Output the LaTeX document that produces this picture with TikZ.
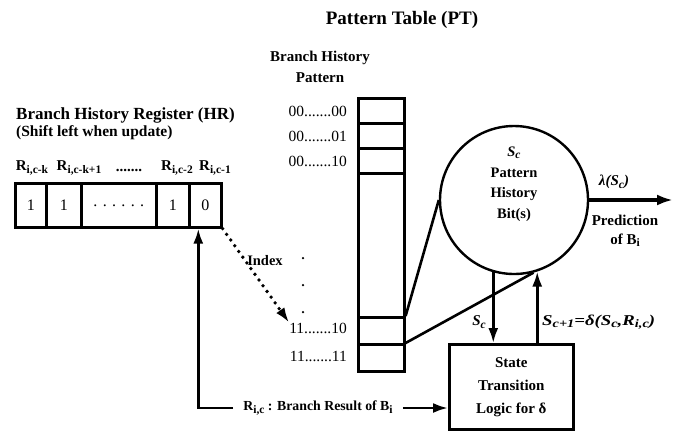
\documentclass[tikz,border=0pt]{standalone}
\usepackage{fontspec}
\usepackage{graphicx}
\setmainfont{Liberation Serif}
\usetikzlibrary{arrows.meta,calc}
\newcommand{\mysub}[1]{\raisebox{-0.35ex}{\fontsize{11.5}{11.5}\selectfont #1}}
\begin{document}
\begin{tikzpicture}[x=1pt,y=-1pt,
  txt/.style={font=\bfseries\fontsize{15}{17}\selectfont, inner sep=0pt},
  itxt/.style={font=\bfseries\itshape\fontsize{15}{17}\selectfont, inner sep=0pt},
  rowlbl/.style={font=\fontsize{15.5}{17}\selectfont, inner sep=0pt, anchor=east},
  cellbox/.style={draw, line width=2.6pt, minimum height=44pt, inner sep=0pt, anchor=north west, font=\fontsize{16}{18}\selectfont},
  ptrow/.style={draw, line width=2.6pt, minimum width=46pt, inner sep=0pt, anchor=north west},
  dotn/.style={circle, fill, inner sep=0pt, minimum size=2.5pt},
  conn/.style={line width=2.6pt},
  arr/.style={conn, -{Latex[length=15pt,width=10pt]}},
]
\useasboundingbox (0,0) rectangle (700,440);

% title
\node[txt, font=\bfseries\fontsize{19}{21}\selectfont] (title) at (402,20) {Pattern Table (PT)};

% history register
\node[txt, anchor=west, font=\bfseries\fontsize{17}{19}\selectfont] (hrtitle) at (16,115) {Branch History Register (HR)};
\node[txt, anchor=west, font=\bfseries\fontsize{15.5}{17}\selectfont] (hrsub) at (16,133) {(Shift left when update)};

\node[cellbox, minimum width=31pt] (h1) at (14,182) {1};
\node[cellbox, minimum width=35pt] (h2) at (45,182) {1};
\node[cellbox, minimum width=75pt] (h3) at (80,182) {. . . . . .};
\node[cellbox, minimum width=33pt] (h4) at (155,182) {1};
\node[cellbox, minimum width=32pt] (h5) at (188,182) {0};

\node[txt] (r1) at (32,168) {R\mysub{i,c-k}};
\node[txt] (r2) at (79,168) {R\mysub{i,c-k+1}};
\node[txt] (r3) at (129,170) {.......};
\node[txt] (r4) at (177,168) {R\mysub{i,c-2}};
\node[txt] (r5) at (215,168) {R\mysub{i,c-1}};

% pattern table
\node[txt] (bh1) at (320,58) {Branch History};
\node[txt] (bh2) at (320,78) {Pattern};
\node[draw, line width=2.6pt, minimum width=46pt, minimum height=273pt, anchor=north west, inner sep=0pt] (pt) at (357,97) {};
\node[ptrow, minimum height=25pt] (p1) at (357,97) {};
\node[ptrow, minimum height=25pt] (p2) at (357,122) {};
\node[ptrow, minimum height=25pt] (p3) at (357,147) {};
\node[ptrow, minimum height=27pt] (p4) at (357,316) {};
\node[ptrow, minimum height=27pt] (p5) at (357,343) {};

\node[rowlbl] (l1) at (347,111) {00.......00};
\node[rowlbl] (l2) at (347,136) {00.......01};
\node[rowlbl] (l3) at (347,161) {00.......10};
\node[rowlbl] (l4) at (347,328) {11.......10};
\node[rowlbl] (l5) at (347,356) {11.......11};

\node[dotn] (d1) at (303,258) {};
\node[dotn] (d2) at (303,285) {};
\node[dotn] (d3) at (303,312) {};

% pattern history circle
\node[draw, circle, line width=2.4pt, minimum size=148pt, inner sep=0pt] (pht) at (514,200) {};
\node[txt, align=center, font=\bfseries\fontsize{14.5}{20.5}\selectfont] (phttext) at (514,184)
  {\textit{S\mysub{c}}\\Pattern\\History\\Bit(s)};

\draw[conn] (p4.north east) -- (pht.west);
\draw[conn] (p5.north east) -- (pht.-75);

% state transition logic
\node[draw, line width=2.6pt, minimum width=124pt, minimum height=85pt, anchor=north west, inner sep=0pt] (stl) at (448,343) {};
\node[txt, align=center, font=\bfseries\fontsize{15}{23}\selectfont] (stltext) at (stl.center) {State\\Transition\\Logic for δ};

\draw[arr] (pht.-106.5) -- (pht.-106.5 |- stl.north);
\draw[arr] (pht.-72 |- stl.north) -- (pht.-72);
\node[itxt] (scl) at (479,322) {S\mysub{c}};
\node[itxt, anchor=west] (scp) at (542,322) {\scalebox{1.25}[1]{S\mysub{c+1}=δ(S\mysub{c},R\mysub{i,c})}};

% prediction output
\coordinate (out) at (673,200);
\draw[conn, line width=3.2pt, -{Latex[length=16pt,width=11pt]}] (pht.east) -- (out);
\node[itxt] (lam) at (614,182) {λ(S\mysub{c})};
\node[txt, align=center, font=\bfseries\fontsize{15}{19}\selectfont] (pred) at (625,231) {Prediction\\of B\mysub{i}};

% index
\draw[line width=3.8pt, dash pattern=on 0pt off 7pt, line cap=round, -{Latex[length=15pt,width=10pt]}] (h5.south east) -- (l4.north west);
\node[txt, font=\bfseries\fontsize{14.5}{16}\selectfont] (idx) at (265,261) {Index};

% branch result feedback
\node[txt, font=\bfseries\fontsize{13.8}{15}\selectfont, inner xsep=10pt] (br) at (318,408) {R\mysub{i,c} : Branch Result of B\mysub{i}};
\draw[arr] (br.west) -| ($(h5.south)+(-7,0)$);
\draw[arr] (br.east) -- (br.east -| stl.west);
\end{tikzpicture}
\end{document}
